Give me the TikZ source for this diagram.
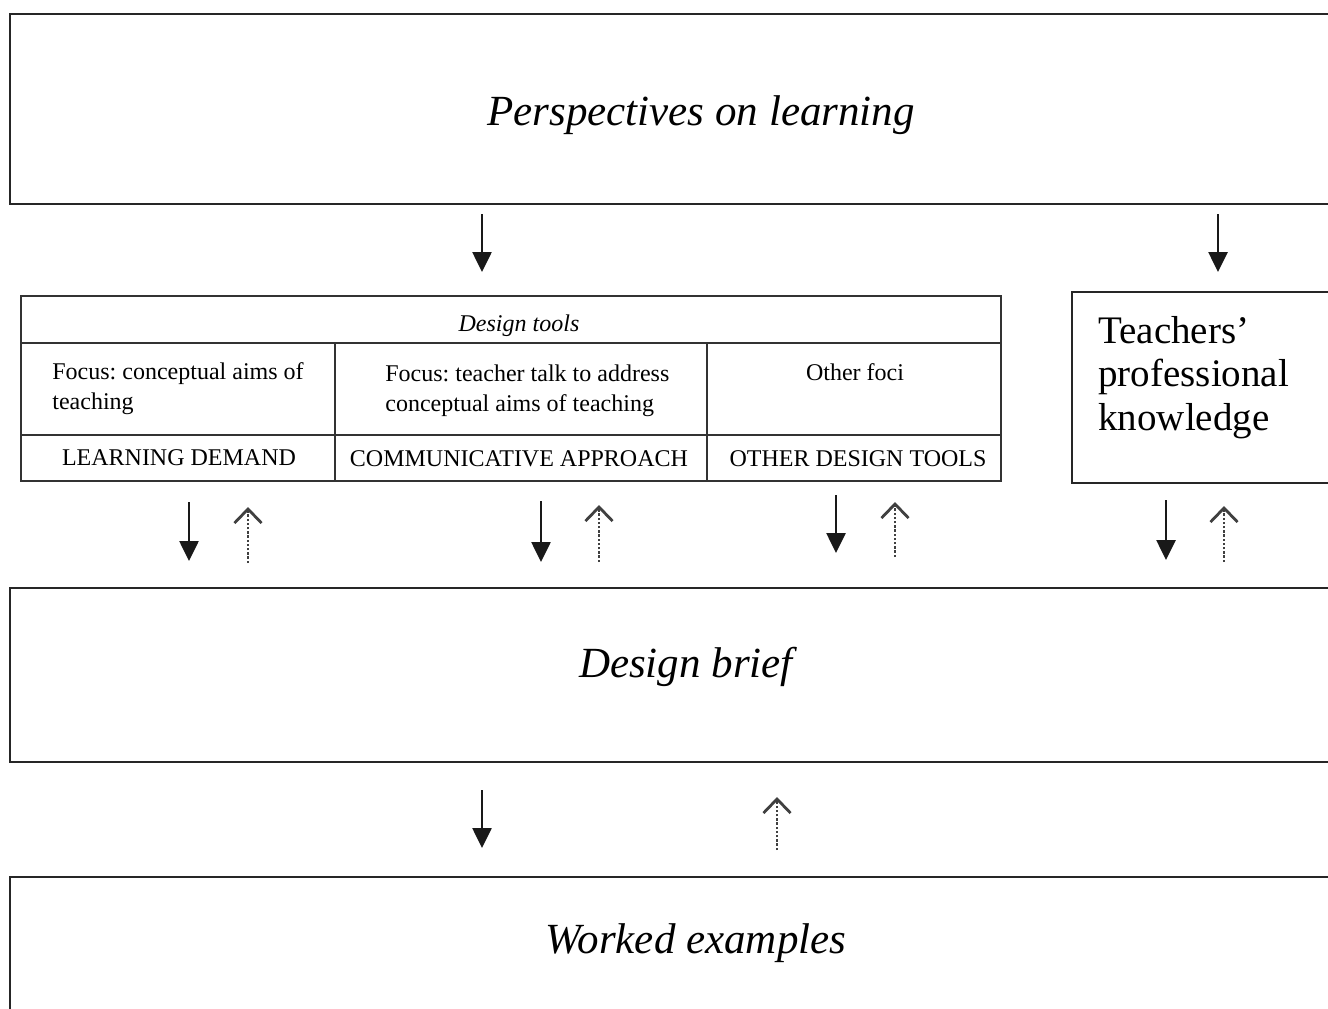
\documentclass[tikz,border=0pt]{standalone}
\usepackage{fontspec}
\setmainfont{Liberation Serif}
\usetikzlibrary{arrows.meta,fit}
\begin{document}
\frenchspacing
\begin{tikzpicture}[x=0.5pt,y=-0.5pt,
  box/.style={draw=black!85, line width=1.4pt, inner sep=0pt, outer sep=0pt},
  cell/.style={draw=black!80, line width=1.1pt, inner sep=0pt, outer sep=0pt},
  bigtext/.style={font=\fontsize{21.5}{25}\selectfont\itshape, inner sep=0pt, anchor=base},
  celltext/.style={font=\fontsize{12}{15}\selectfont, inner sep=0pt},
  teachtext/.style={font=\fontsize{19.5}{21.75}\selectfont, inner sep=0pt, align=left, anchor=north west},
  downarr/.style={draw=black!90, line width=1.3pt, -{Triangle[length=10pt,width=9.5pt]}},
  uparr/.style={draw=black!75, line width=0.9pt, dash pattern=on 1.2pt off 0.9pt,
    -{Straight Barb[length=7pt,width=13.5pt,line width=1.4pt]}},
]
\clip (0,0) rectangle (1328,1008);
\fill[white] (0,0) rectangle (1328,1008);

% main boxes
\node[box, fit={(10,14) (1400,204)}] (persp) {};
\node[box, fit={(10,588) (1400,762)}] (brief) {};
\node[box, fit={(10,877) (1400,1030)}] (worked) {};
\node[box, fit={(1072,292) (1400,483)}] (teach) {};

% design tools table
\node[cell, fit={(21,296) (1001,343)}] (tools) {};
\node[cell, fit={(21,343) (335,435)}] (c1) {};
\node[cell, fit={(335,343) (707,435)}] (c2) {};
\node[cell, fit={(707,343) (1001,435)}] (c3) {};
\node[cell, fit={(21,435) (335,481)}] (d1) {};
\node[cell, fit={(335,435) (707,481)}] (d2) {};
\node[cell, fit={(707,435) (1001,481)}] (d3) {};

% texts
\node[bigtext] (perspT) at (701,125) {Perspectives on learning};
\node[bigtext] (briefT) at (686,677) {Design brief};
\node[bigtext] (workedT) at (696,953) {Worked examples};
\node[celltext, font=\fontsize{12}{15}\selectfont\itshape, anchor=base] (toolsT) at (519,331) {Design tools};
\node[celltext, align=left, anchor=north west] (c1T) at (52,362) {Focus: conceptual aims of\\teaching};
\node[celltext, align=left, anchor=north west] (c2T) at (385,364) {Focus: teacher talk to address\\conceptual aims of teaching};
\node[celltext, anchor=base] (c3T) at (855,380) {Other foci};
\node[celltext, anchor=base] (d1T) at (179,465) {LEARNING DEMAND};
\node[celltext, anchor=base] (d2T) at (519,466) {COMMUNICATIVE APPROACH};
\node[celltext, anchor=base] (d3T) at (858,466) {OTHER DESIGN TOOLS};
\node[teachtext] (teachT) at (1098,316) {Teachers'\\professional\\knowledge};

% x positions of arrows
\coordinate (xa) at (482,0);
\coordinate (xb) at (1218,0);
\coordinate (x1) at (189,0);
\coordinate (x2) at (248,0);
\coordinate (x3) at (541,0);
\coordinate (x4) at (599,0);
\coordinate (x5) at (836,0);
\coordinate (x6) at (895,0);
\coordinate (x7) at (1166,0);
\coordinate (x8) at (1224,0);
\coordinate (x9) at (482,0);
\coordinate (x10) at (777,0);

% arrows
\draw[downarr, shorten <=5pt, shorten >=12pt] (persp.south -| xa) -- (tools.north -| xa);
\draw[downarr, shorten <=5pt, shorten >=10pt] (persp.south -| xb) -- (teach.north -| xb);

\draw[downarr, shorten <=10.5pt, shorten >=13.5pt] (d1.south -| x1) -- (brief.north -| x1);
\draw[uparr, shorten <=12.5pt, shorten >=13pt] (brief.north -| x2) -- (d1.south -| x2);
\draw[downarr, shorten <=10pt, shorten >=13pt] (d2.south -| x3) -- (brief.north -| x3);
\draw[uparr, shorten <=13pt, shorten >=12pt] (brief.north -| x4) -- (d2.south -| x4);
\draw[downarr, shorten <=7pt, shorten >=17.5pt] (d3.south -| x5) -- (brief.north -| x5);
\draw[uparr, shorten <=15.5pt, shorten >=10.5pt] (brief.north -| x6) -- (d3.south -| x6);
\draw[downarr, shorten <=8.5pt, shorten >=14pt] (teach.south -| x7) -- (brief.north -| x7);
\draw[uparr, shorten <=13pt, shorten >=11.5pt] (brief.north -| x8) -- (teach.south -| x8);

\draw[downarr, shorten <=14pt, shorten >=14.5pt] (brief.south -| x9) -- (worked.north -| x9);
\draw[uparr, shorten <=13.5pt, shorten >=17.5pt] (worked.north -| x10) -- (brief.south -| x10);
\end{tikzpicture}
\end{document}
